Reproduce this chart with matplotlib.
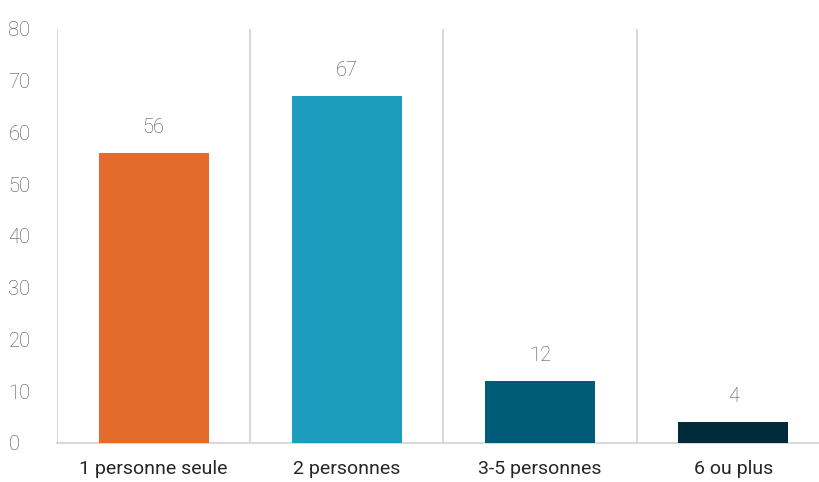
import matplotlib
matplotlib.use("Agg")
import matplotlib.pyplot as plt

categories = ["1 personne seule", "2 personnes", "3-5 personnes", "6 ou plus"]
values = [56, 67, 12, 4]
colors = ["#E36C2C", "#1C9DBE", "#005B78", "#002B3B"]
yticks = [0, 10, 20, 30, 40, 50, 60, 70, 80]

plt.rcParams['font.family'] = ['Roboto', 'DejaVu Sans']
text_color = "#4D4D4D"
grid_color = "#D9D9D9"

fig = plt.figure(figsize=(8.2, 4.82), dpi=100)
ax = fig.add_axes([57/820, 39/482, 773/820, 414/482])

x = list(range(len(categories)))
bars = ax.bar(x, values, width=0.57, color=colors, zorder=3)
for xi, v in zip(x, values):
    ax.text(xi, v + 4.9, str(v), ha="center", va="center", fontsize=14.5,
            color=text_color, fontweight="light")

ax.set_xlim(-0.5, len(categories) - 0.5)
ax.set_ylim(0, 80)
ax.set_yticks(yticks)
ax.set_yticklabels([str(t) for t in yticks], fontsize=14.5, color=text_color, fontweight="light")
ax.set_xticks(x)
ax.set_xticklabels(categories, fontsize=14, color="#262626")
ax.tick_params(axis="x", length=0, pad=12)
ax.tick_params(axis="y", length=0, pad=35)

for b in [i - 0.5 for i in range(len(categories) + 1)]:
    ax.axvline(b, color=grid_color, linewidth=1.5, zorder=1)

for s in ["top", "right", "left"]:
    ax.spines[s].set_visible(False)
ax.spines["bottom"].set_color(grid_color)
ax.spines["bottom"].set_linewidth(1.5)

for lab in ax.get_yticklabels():
    lab.set_horizontalalignment("left")

fig.savefig("out.png", dpi=100)
